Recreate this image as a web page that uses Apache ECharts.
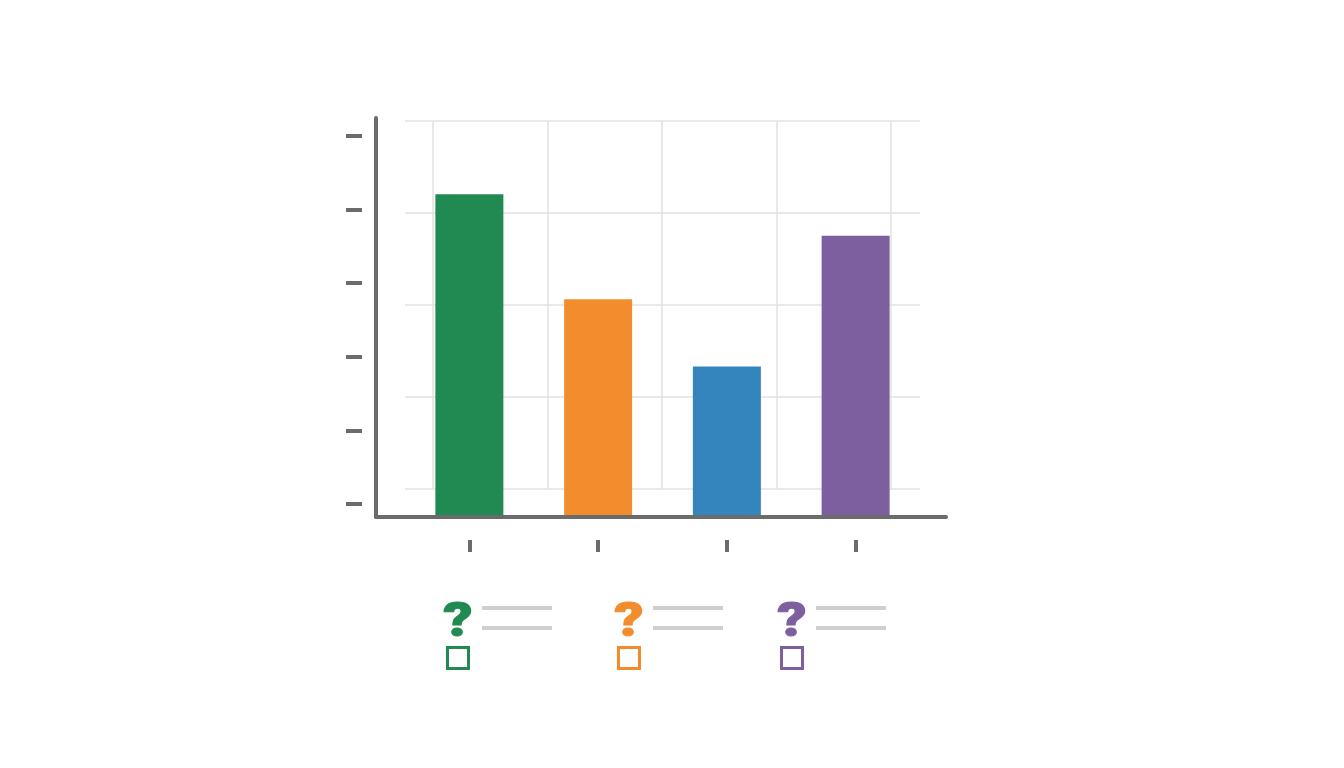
<!DOCTYPE html>
<html>
<head>
<meta charset="utf-8">
<script src="https://cdn.jsdelivr.net/npm/echarts@6/dist/echarts.min.js"></script>
<style>
html,body{margin:0;padding:0;background:#fff;}
#c{width:1344px;height:768px;}
</style>
</head>
<body>
<div id="c"></div>
<script>
// ---- data ----
var categories = ['A', 'B', 'C', 'D'];
var values = [81.5, 55, 38, 71];
var yTickLabels = ['', '', '', '', '', ''];
var legendMarks = ['?', '?', '?'];

// ---- styles ----
var barColors = ['#208a52', '#f18d2d', '#3484be', '#7d5fa0'];
var legendColors = ['#208a52', '#f18d2d', '#7d5fa0'];
var axisColor = '#6b6b6b';
var gridColor = '#e2e2e2';
var W = 1344, H = 768;

var hidden = { show: false };

var chart = echarts.init(document.getElementById('c'));

var legendX = [446, 617, 780];
var graphics = [];
legendMarks.forEach(function (m, i) {
  var x0 = legendX[i];
  graphics.push({
    type: 'text', x: x0 + 12, y: 624, z: 10, scaleX: 1.2,
    style: { text: m, fill: legendColors[i], stroke: legendColors[i], lineWidth: 1,
      font: '900 48px Roboto, "Liberation Sans", sans-serif', align: 'center', verticalAlign: 'middle' }
  });
  graphics.push({
    type: 'rect', x: x0 + 1.5, y: 647.5, z: 10,
    shape: { width: 21, height: 21 },
    style: { fill: 'none', stroke: legendColors[i], lineWidth: 3 }
  });
  [608, 628].forEach(function (yy) {
    graphics.push({
      type: 'line', z: 10,
      shape: { x1: x0 + 36, y1: yy, x2: x0 + 106, y2: yy },
      style: { stroke: '#cfcfcf', lineWidth: 4 }
    });
  });
});

var option = {
  backgroundColor: '#ffffff',
  animation: false,
  grid: [
    // 0: bars
    { left: 405, right: W - 920, top: 121, bottom: H - 517 },
    // 1: horizontal grid lines
    { left: 405, right: W - 920, top: 121, bottom: H - 489 },
    // 2: vertical grid lines
    { left: 433, right: W - 891, top: 121, bottom: H - 489 },
    // 3: y ticks (detached)
    { left: 362, right: W - 920, top: 136, bottom: H - 504 },
    // 4: axis lines
    { left: 376, right: W - 946, top: 118, bottom: H - 517 },
    // 5: x ticks (detached)
    { left: 405, right: W - 920, top: 121, bottom: H - 540 }
  ],
  xAxis: [
    { gridIndex: 0, type: 'category', data: categories, show: false },
    { gridIndex: 1, type: 'value', show: false },
    { gridIndex: 2, type: 'value', min: 0, max: 4, interval: 1,
      axisLine: hidden, axisTick: hidden, axisLabel: hidden,
      splitLine: { show: true, lineStyle: { color: gridColor, width: 1.5 } } },
    { gridIndex: 3, type: 'value', show: false },
    { gridIndex: 4, type: 'value', min: 0, max: 1, position: 'bottom',
      axisLine: { show: true, onZero: false, lineStyle: { color: axisColor, width: 4 } },
      axisTick: hidden, axisLabel: hidden, splitLine: hidden, z: 5 },
    { gridIndex: 5, type: 'category', data: categories, position: 'bottom',
      axisLine: hidden, axisLabel: hidden, splitLine: hidden,
      axisTick: { show: true, alignWithLabel: true, length: 12, lineStyle: { color: axisColor, width: 4 } } }
  ],
  yAxis: [
    { gridIndex: 0, type: 'value', min: 0, max: 100, show: false },
    { gridIndex: 1, type: 'value', min: 0, max: 4, interval: 1,
      axisLine: hidden, axisTick: hidden, axisLabel: hidden,
      splitLine: { show: true, lineStyle: { color: gridColor, width: 1.5 } } },
    { gridIndex: 2, type: 'value', show: false },
    { gridIndex: 3, type: 'value', min: 0, max: 5, interval: 1,
      axisLine: hidden, splitLine: hidden,
      axisLabel: { show: true, formatter: function (v) { return yTickLabels[v] || ''; } },
      axisTick: { show: true, length: 16, lineStyle: { color: axisColor, width: 4 } } },
    { gridIndex: 4, type: 'value', min: 0, max: 1, position: 'left',
      axisLine: { show: true, onZero: false, lineStyle: { color: axisColor, width: 4 } },
      axisTick: hidden, axisLabel: hidden, splitLine: hidden, z: 5 },
    { gridIndex: 5, type: 'value', show: false }
  ],
  series: [{
    type: 'bar',
    xAxisIndex: 0, yAxisIndex: 0,
    barWidth: 68,
    z: 3,
    data: values.map(function (v, i) {
      return { value: v, itemStyle: { color: barColors[i] } };
    })
  }],
  graphic: graphics
};
chart.setOption(option);
</script>
</body>
</html>
